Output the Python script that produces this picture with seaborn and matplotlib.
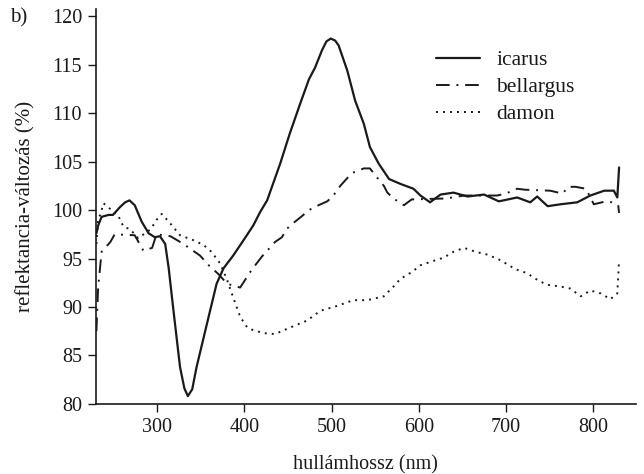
import numpy as np
import pandas as pd
import seaborn as sns
import matplotlib.pyplot as plt

# values
icarus_nm = [230, 232, 236, 244, 249, 257, 263, 268, 274, 282, 290, 297, 303, 309, 313,
             318, 326, 331, 335, 340, 345, 357, 368, 376, 387, 399, 410, 418, 426, 441,
             452, 464, 474, 481, 489, 494, 499, 504, 508, 518, 527, 537, 544, 554, 566,
             579, 594, 602, 613, 625, 640, 656, 675, 692, 713, 728, 736, 748, 763, 782,
             797, 813, 824, 828, 830]
icarus_val = [97.6, 98.4, 99.3, 99.5, 99.5, 100.3, 100.8, 101.0, 100.5, 98.8, 97.6, 97.2,
              97.3, 96.5, 94.0, 90.0, 83.8, 81.6, 80.8, 81.5, 83.8, 88.3, 92.4, 94.0,
              95.3, 96.9, 98.4, 99.8, 101.0, 104.8, 107.9, 111.0, 113.5, 114.7, 116.5,
              117.4, 117.7, 117.5, 117.0, 114.4, 111.3, 108.9, 106.5, 104.8, 103.2,
              102.7, 102.2, 101.5, 100.8, 101.6, 101.8, 101.4, 101.6, 100.9, 101.3,
              100.8, 101.4, 100.4, 100.6, 100.8, 101.5, 102.0, 102.0, 101.3, 104.4]

bellargus_nm = [230, 232, 236, 246, 251, 274, 284, 294, 299, 315, 330, 349, 359, 370,
                380, 395, 408, 420, 426, 435, 443, 449, 458, 465, 474, 485, 495, 502,
                510, 516, 523, 537, 544, 550, 560, 564, 571, 583, 592, 632, 652, 690,
                700, 713, 722, 751, 765, 772, 780, 792, 801, 815, 822, 829, 830]
bellargus_val = [87.5, 92.0, 95.7, 96.7, 97.5, 97.4, 95.8, 96.1, 97.5, 97.3, 96.5, 95.3,
                 94.3, 93.4, 92.4, 92.0, 93.8, 95.2, 95.8, 96.7, 97.2, 98.1, 98.8, 99.3,
                 100.0, 100.5, 100.9, 101.5, 102.5, 103.1, 103.8, 104.3, 104.3, 103.6,
                 102.5, 101.8, 101.2, 100.5, 101.1, 101.2, 101.5, 101.5, 101.7, 102.2,
                 102.1, 102.0, 101.7, 102.4, 102.4, 102.2, 100.6, 100.9, 100.8, 100.5,
                 99.7]

damon_nm = [230, 232, 235, 238, 241, 246, 249, 255, 258, 262, 267, 272, 278, 292, 300,
            305, 315, 326, 341, 353, 362, 372, 380, 387, 395, 403, 410, 422, 435, 453,
            472, 487, 506, 525, 541, 560, 571, 579, 592, 602, 615, 629, 640, 652, 665,
            679, 692, 698, 711, 724, 736, 747, 763, 774, 786, 797, 809, 820, 828, 830]
damon_val = [96.5, 99.1, 99.6, 100.7, 100.5, 100.1, 99.8, 99.5, 98.8, 98.2, 98.1, 97.7,
             97.1, 98.0, 99.1, 99.6, 98.6, 97.4, 96.9, 96.4, 95.7, 94.5, 92.8, 91.0,
             89.0, 87.9, 87.6, 87.3, 87.2, 87.9, 88.6, 89.6, 90.1, 90.7, 90.7, 91.1,
             92.1, 92.9, 93.6, 94.3, 94.7, 95.1, 95.7, 96.1, 95.7, 95.4, 94.9, 94.6,
             93.9, 93.5, 92.8, 92.3, 92.1, 91.9, 91.1, 91.7, 91.4, 90.8, 91.4, 94.8]

x_ticks = [300, 400, 500, 600, 700, 800]
y_ticks = [80, 85, 90, 95, 100, 105, 110, 115, 120]

sns.set_style("ticks")
plt.rcParams['font.family'] = ['Liberation Serif', 'DejaVu Serif']

fig = plt.figure(figsize=(6.44, 4.74), dpi=100)
ax = fig.add_axes([0.149, 0.148, 0.838, 0.834])

series = [("icarus", icarus_nm, icarus_val, None),
          ("bellargus", bellargus_nm, bellargus_val, (7, 3.5, 1, 3.5)),
          ("damon", damon_nm, damon_val, (1, 2.6))]

for name, xs, ys, dash in series:
    df = pd.DataFrame({"nm": xs, "val": ys})
    lw = 1.6 if name == "icarus" else 1.4
    sns.lineplot(data=df, x="nm", y="val", ax=ax, color="#1a1a1a", linewidth=lw,
                 estimator=None, sort=False, label=name)
    line = ax.lines[-1]
    line.set_solid_joinstyle("round")
    if dash is not None:
        line.set_dashes(dash)

ax.set_xlim(229.5, 849)
ax.set_ylim(80, 120.8)
ax.set_xticks(x_ticks)
ax.set_yticks(y_ticks)
ax.tick_params(labelsize=14.5, length=6, width=1, colors="#1a1a1a", pad=4)
for side in ["top", "right"]:
    ax.spines[side].set_visible(False)
for side in ["left", "bottom"]:
    ax.spines[side].set_linewidth(1.2)
    ax.spines[side].set_color("#1a1a1a")

ax.set_xlabel("hullámhossz (nm)", fontsize=14.5, color="#1a1a1a", labelpad=13)
ax.set_ylabel("reflektancia-változás (%)", fontsize=15, color="#1a1a1a", labelpad=12)

leg = ax.legend(loc="upper left", bbox_to_anchor=(0.63, 0.895), frameon=False,
                fontsize=15.5, handlelength=2.05, handletextpad=0.75,
                labelspacing=0.33, borderpad=0, borderaxespad=0)
for t in leg.get_texts():
    t.set_color("#1a1a1a")

fig.text(0.016, 0.952, "b)", fontsize=15, color="#1a1a1a")

fig.savefig("out.png", dpi=100)
